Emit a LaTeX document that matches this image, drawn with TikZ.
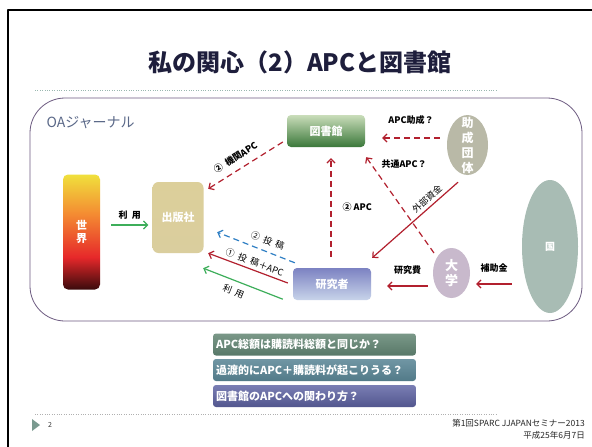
\documentclass[tikz,border=0pt]{standalone}
\usepackage{fontspec}
\setmainfont{Noto Sans CJK JP}
\usetikzlibrary{arrows.meta,shapes.geometric}
\definecolor{arrowred}{HTML}{B2202E}
\definecolor{arrowgreen}{HTML}{3DAE5A}
\definecolor{arrowblue}{HTML}{2F7FC4}
\definecolor{titleblue}{HTML}{1E1E3C}
\definecolor{oablue}{HTML}{5A6888}
\definecolor{frameviolet}{HTML}{6C5A80}
\definecolor{ruletop}{HTML}{9AB8B0}
\definecolor{rulebot}{HTML}{B0B0B0}
\definecolor{sekaiD}{HTML}{3A0A0C}
\definecolor{sekaiR}{HTML}{E6282A}
\definecolor{sekaiO}{HTML}{F48C32}
\definecolor{sekaiY}{HTML}{F0E03C}
\definecolor{goldT}{HTML}{DCCF9A}
\definecolor{goldM}{HTML}{B8A35C}
\definecolor{goldB}{HTML}{DACE9E}
\definecolor{libT}{HTML}{CADDBA}
\definecolor{libB}{HTML}{3A783A}
\definecolor{resT}{HTML}{7C82C2}
\definecolor{resB}{HTML}{C8D4EA}
\definecolor{fundfill}{HTML}{B9B9A7}
\definecolor{unifill}{HTML}{C8B9CC}
\definecolor{statefill}{HTML}{A8BCB4}
\definecolor{qoneT}{HTML}{7A9888}
\definecolor{qoneB}{HTML}{587868}
\definecolor{qtwoT}{HTML}{7096A4}
\definecolor{qtwoB}{HTML}{527A88}
\definecolor{qthreeT}{HTML}{7A7EB4}
\definecolor{qthreeB}{HTML}{52568E}
\definecolor{footmark}{HTML}{7A9A90}
\pgfdeclareverticalshading{sekaishade}{100bp}{color(0bp)=(sekaiD); color(25bp)=(sekaiD); color(39bp)=(sekaiR); color(58bp)=(sekaiO); color(75bp)=(sekaiY); color(100bp)=(sekaiY)}
\begin{document}
\begin{tikzpicture}[x=1pt,y=-1pt,line join=round,>={Straight Barb[length=4pt,width=8pt]},
  lbl/.style={text=black,font=\bfseries\fontsize{9}{10}\selectfont,inner sep=1pt},
  boxtxt/.style={text=white,font=\bfseries\fontsize{11}{13}\selectfont,inner sep=0pt,rounded corners=4pt,align=center},
  vtxt/.style={text=white,font=\bfseries\fontsize{12}{15}\selectfont,align=center,inner sep=0pt},
  redarr/.style={->,arrowred,line width=1.2pt},
  reddash/.style={redarr,dash pattern=on 6pt off 4pt},
  greenarr/.style={->,arrowgreen,line width=1.2pt},
  bluedash/.style={->,arrowblue,line width=1.2pt,dash pattern=on 6pt off 4pt},
  question/.style={boxtxt,rounded corners=3pt,minimum height=22pt,text width=197pt,inner xsep=3pt,align=left}]
\useasboundingbox (0,0) rectangle (592,447);
\fill[white] (0,0) rectangle (592,447);
\draw[line width=1.6pt] (592,10) -- (8,10) -- (8,447);
\node[text=titleblue,font=\bfseries\fontsize{24}{28}\selectfont] (title) at (300,62) {私の関心（2）APCと図書館};
\draw[ruletop,dotted] (35,90) -- (497,90);
\draw[rulebot,dotted] (35,414) -- (497,414);
\draw[frameviolet,line width=0.8pt,rounded corners=35pt] (30,98) rectangle (582,321);
\node[text=oablue,font=\fontsize{14}{16}\selectfont,anchor=west] (oa) at (43,123) {OAジャーナル};
% players
\node[boxtxt,shade,shading=sekaishade,minimum width=37pt,minimum height=115pt,rounded corners=5pt] (sekai) at (81.5,232) {世\\界};
\node[boxtxt,top color=goldT,middle color=goldM,bottom color=goldB,minimum width=51pt,minimum height=71pt,rounded corners=6pt] (shuppan) at (178,217.5) {出版社};
\node[boxtxt,top color=libT,bottom color=libB,minimum width=78pt,minimum height=32pt] (tosho) at (326,131) {図書館};
\node[boxtxt,top color=resT,bottom color=resB,minimum width=78pt,minimum height=32pt] (kenkyu) at (332,284) {研究者};
\node[ellipse,fill=fundfill,minimum width=41pt,minimum height=60pt,inner sep=0pt,label={[vtxt]center:助\\成\\団\\体}] (josei) at (467.5,145) {};
\node[ellipse,fill=unifill,minimum width=37pt,minimum height=50pt,inner sep=0pt,vtxt,font=\bfseries\fontsize{13}{15}\selectfont] (daigaku) at (451.5,273) {大\\学};
\node[ellipse,fill=statefill,minimum width=56pt,minimum height=133pt,inner sep=0pt,text=white,font=\bfseries\fontsize{10}{11}\selectfont] (kuni) at (550,246.5) {国};
% flows
\draw[greenarr] ([shift={(11,-7)}]sekai.east) -- node[lbl,above=4pt]{利\ \ 用} ([shift={(-4,7.5)}]shuppan.west);
\draw[reddash] ([shift={(-4,11)}]tosho.west) -- node[lbl,sloped,above=6pt,pos=0.55]{②\ \ 機関APC} ([shift={(4.5,7)}]shuppan.north east);
\draw[reddash] ([shift={(-1,-11)}]kenkyu.north) -- node[lbl,right=10pt]{②\ APC} ([shift={(5,11)}]tosho.south);
\draw[reddash] ([shift={(-7,-7)}]josei.west) -- node[lbl,above=12pt]{APC助成？} ([shift={(17,7)}]tosho.east);
\draw[reddash] ([shift={(-17.5,-20)}]daigaku.center) -- node[lbl,pos=0.93,right=9pt]{共通APC？} ([shift={(1,10)}]tosho.south east);
\draw[redarr] ([shift={(-9.5,7)}]josei.south) -- node[lbl,sloped,above=2pt,pos=0.3,font=\fontsize{9}{10}\selectfont]{外部資金} ([shift={(1,-10)}]kenkyu.north east);
\draw[redarr] ([shift={(-5,13)}]daigaku.west) -- node[lbl,above=10pt]{研究費} ([shift={(16,2)}]kenkyu.east);
\draw[redarr] ([shift={(-10,37.5)}]kuni.west) -- node[lbl,above=10pt]{補助金} ([shift={(6,11)}]daigaku.east);
\draw[bluedash] ([shift={(2,-5)}]kenkyu.north west) -- node[lbl,sloped,above=5pt,pos=0.4,font=\fontsize{9}{10}\selectfont]{②\ \ 投\ \ 稿} ([shift={(13.5,-21)}]shuppan.south east);
\draw[redarr] ([shift={(-5,-1)}]kenkyu.west) -- node[lbl,sloped,above=2pt,pos=0.45,font=\fontsize{9}{10}\selectfont]{①\ \ 投\ \ 稿＋APC} ([shift={(4.5,0)}]shuppan.south east);
\draw[greenarr] ([shift={(-10,-1)}]kenkyu.south west) -- node[lbl,sloped,below=5pt,pos=0.57,font=\fontsize{9}{10}\selectfont]{利\ \ 用} ([shift={(-0.5,15)}]shuppan.south east);
% questions
\node[question,top color=qoneT,bottom color=qoneB] (q1) at (314.5,344.5) {APC総額は購読料総額と同じか？};
\node[question,top color=qtwoT,bottom color=qtwoB] (q2) at (314.5,370) {過渡的にAPC＋購読料が起こりうる？};
\node[question,top color=qthreeT,bottom color=qthreeB] (q3) at (314.5,396) {図書館のAPCへの関わり方？};
% footer
\fill[footmark] (32,419) -- (40,425) -- (32,431) -- cycle;
\node[font=\fontsize{7}{8}\selectfont,text=black!80] (page) at (50,425) {2};
\node[anchor=north east,align=right,font=\fontsize{8.5}{12}\selectfont,text=black!85,inner sep=0pt] (foot) at (585,419) {第1回SPARC JJAPANセミナー2013\\平成25年6月7日};
\end{tikzpicture}
\end{document}
